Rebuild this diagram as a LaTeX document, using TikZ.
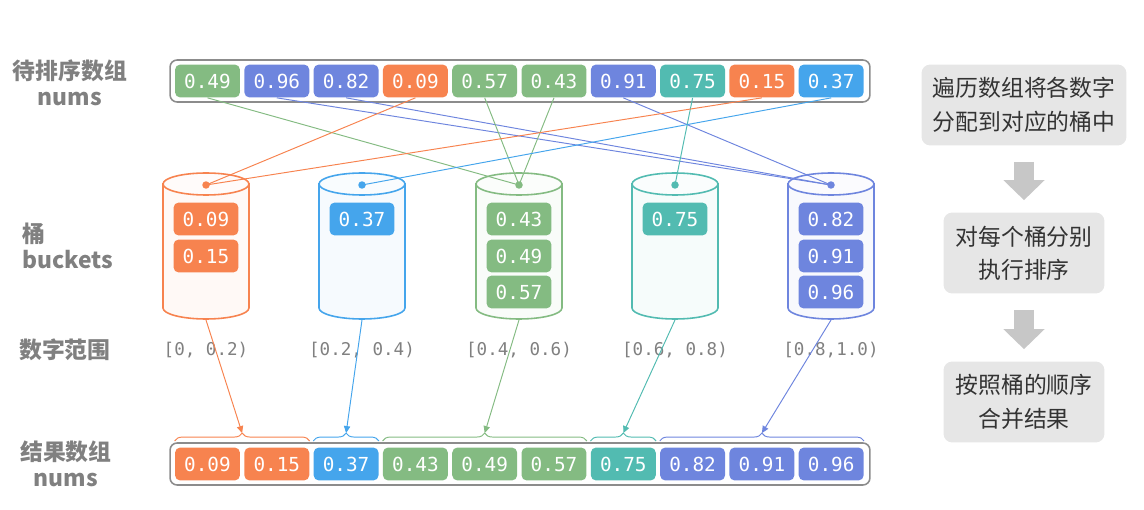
\documentclass[tikz,border=0pt]{standalone}
\usepackage{fontspec}
\setmonofont{DejaVu Sans Mono}
\newfontfamily\cjk{Noto Sans CJK SC}
\usetikzlibrary{arrows.meta,decorations.pathreplacing,calc}
\definecolor{orng}{HTML}{F7834F}
\definecolor{blu}{HTML}{45A5EC}
\definecolor{grn}{HTML}{84BB82}
\definecolor{tl}{HTML}{52BBB1}
\definecolor{prp}{HTML}{6E85DE}
\definecolor{txtg}{HTML}{808080}
\definecolor{stepbg}{HTML}{E6E6E6}

\begin{document}
\begin{tikzpicture}[x=0.02cm,y=0.02cm,
  cell/.style={fill=#1,rounded corners=3pt,minimum width=1.3cm,minimum height=0.66cm,inner sep=0pt,text=white,font=\ttfamily\fontsize{11}{13}\selectfont},
  arrbox/.style={draw=black!45,line width=0.9pt,rounded corners=4pt,minimum width=14cm,minimum height=0.84cm},
  lbl/.style={text=txtg,font=\cjk\bfseries\fontsize{13}{15}\selectfont,align=center},
  rng/.style={text=txtg,font=\ttfamily\fontsize{10}{12}\selectfont},
  stepbox/.style={fill=stepbg,rounded corners=5pt,text=black!80,font=\cjk\fontsize{13}{19}\selectfont,align=center,minimum height=1.62cm},
  link/.style={line width=0.55pt},
  put/.style={-{Triangle[length=4pt,width=3.6pt]},line width=0.55pt},
  brc/.style={decorate,decoration={brace,amplitude=4.5pt},line width=0.55pt},
  blk/.style={-{Triangle[length=0.4cm,width=0.8cm]},line width=0.4cm,draw=black!22}]
\useasboundingbox (0,0) rectangle (1144,-510);

% left labels
\node[lbl] (l1) at (70,-83) {待排序数组\\nums};
\node[lbl,align=left,anchor=west] (l2) at (16,-246) {桶\\buckets};
\node[lbl] (l3) at (65,-350) {数字范围};
\node[lbl] (l4) at (66,-464) {结果数组\\nums};

% input array
\node[arrbox] (ta) at (520,-81) {};
\foreach \v/\c [count=\i] in {0.49/grn,0.96/prp,0.82/prp,0.09/orng,0.57/grn,0.43/grn,0.91/prp,0.75/tl,0.15/orng,0.37/blu}
  \node[cell=\c] (t\i) at ({138.2+69.3*\i},-81) {\v};

% buckets
\foreach \x/\c [count=\k] in {206/orng,362/blu,519/grn,675/tl,831/prp}{
  \filldraw[draw=\c,fill=\c!5,line width=0.9pt] (\x-43,-184) -- (\x-43,-308)
    arc[start angle=180,end angle=360,x radius=0.86cm,y radius=0.22cm] -- (\x+43,-184) -- cycle;
  \filldraw[draw=\c,fill=\c!3,line width=0.9pt] (\x,-184) ellipse [x radius=0.86cm,y radius=0.22cm];
  \fill[\c] (\x,-185) circle (0.075cm);
  \coordinate (d\k) at (\x,-185);
  \coordinate (b\k) at (\x,-320);
}
\node[cell=orng] (b1a) at (206,-219) {0.09};
\node[cell=orng] (b1b) at (206,-256) {0.15};
\node[cell=blu] (b2a) at (362,-219) {0.37};
\node[cell=grn] (b3a) at (519,-219) {0.43};
\node[cell=grn] (b3b) at (519,-256) {0.49};
\node[cell=grn] (b3c) at (519,-292) {0.57};
\node[cell=tl] (b4a) at (675,-219) {0.75};
\node[cell=prp] (b5a) at (831,-219) {0.82};
\node[cell=prp] (b5b) at (831,-256) {0.91};
\node[cell=prp] (b5c) at (831,-292) {0.96};

% ranges
\node[rng] (r1) at (206,-350) {[0, 0.2)};
\node[rng] (r2) at (362,-350) {[0.2, 0.4)};
\node[rng] (r3) at (519,-350) {[0.4, 0.6)};
\node[rng] (r4) at (675,-350) {[0.6, 0.8)};
\node[rng] (r5) at (831,-350) {[0.8,1.0)};

% scatter into buckets
\foreach \i/\k/\c in {1/3/grn,2/5/prp,3/5/prp,4/1/orng,5/3/grn,6/3/grn,7/5/prp,8/4/tl,9/1/orng,10/2/blu}
  \draw[link,\c] (t\i.south) -- (d\k);

% result array
\node[arrbox] (sa) at (520,-464) {};
\foreach \v/\c [count=\i] in {0.09/orng,0.15/orng,0.37/blu,0.43/grn,0.49/grn,0.57/grn,0.75/tl,0.82/prp,0.91/prp,0.96/prp}
  \node[cell=\c] (s\i) at ({138.2+69.3*\i},-464) {\v};

% braces and merge arrows
\draw[brc,orng] ([yshift=3.5pt]s1.north west) -- coordinate[pos=.5,yshift=4.5pt] (c1) ([yshift=3.5pt]s2.north east);
\draw[brc,blu] ([yshift=3.5pt]s3.north west) -- coordinate[pos=.5,yshift=4.5pt] (c2) ([yshift=3.5pt]s3.north east);
\draw[brc,grn] ([yshift=3.5pt]s4.north west) -- coordinate[pos=.5,yshift=4.5pt] (c3) ([yshift=3.5pt]s6.north east);
\draw[brc,tl] ([yshift=3.5pt]s7.north west) -- coordinate[pos=.5,yshift=4.5pt] (c4) ([yshift=3.5pt]s7.north east);
\draw[brc,prp] ([yshift=3.5pt]s8.north west) -- coordinate[pos=.5,yshift=4.5pt] (c5) ([yshift=3.5pt]s10.north east);
\foreach \k/\c in {1/orng,2/blu,3/grn,4/tl,5/prp}
  \draw[put,\c] (b\k) -- (c\k);

% steps
\node[stepbox,minimum width=4.1cm] (p1) at (1024,-105) {遍历数组将各数字\\分配到对应的桶中};
\node[stepbox,minimum width=3.22cm] (p2) at (1024,-253) {对每个桶分别\\执行排序};
\node[stepbox,minimum width=3.22cm] (p3) at (1024,-402) {按照桶的顺序\\合并结果};
\draw[blk,shorten <=0.32cm,shorten >=0.24cm] (p1) -- (p2);
\draw[blk,shorten <=0.32cm,shorten >=0.24cm] (p2) -- (p3);
\end{tikzpicture}
\end{document}
